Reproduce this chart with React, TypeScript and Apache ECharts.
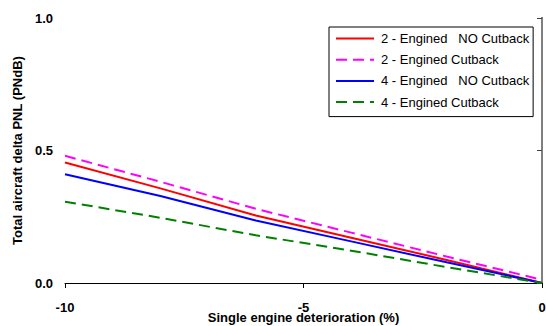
import React, { useEffect, useRef } from "react";
import * as echarts from "echarts";

const xValues = [-10, -8, -6, -4, -2, 0];
const twoNoCutback = [0.455, 0.357, 0.255, 0.171, 0.087, 0.0];
const twoCutback = [0.48, 0.382, 0.28, 0.19, 0.1, 0.012];
const fourNoCutback = [0.41, 0.328, 0.236, 0.157, 0.078, 0.0];
const fourCutback = [0.307, 0.246, 0.18, 0.122, 0.06, 0.0];

const seriesNames = [
  "2 - Engined\u00a0\u00a0\u00a0NO Cutback",
  "2 - Engined Cutback",
  "4 - Engined\u00a0\u00a0\u00a0NO Cutback",
  "4 - Engined Cutback",
];
const seriesColors = ["#ff0000", "#ff00ff", "#0000ff", "#008000"];
const seriesDashed = [false, true, false, true];
const seriesValues = [twoNoCutback, twoCutback, fourNoCutback, fourCutback];

const FONT = "'Liberation Sans', Arial, sans-serif";

export default function App() {
  const ref = useRef<HTMLDivElement>(null);
  useEffect(() => {
    if (!ref.current) return;
    const chart = echarts.init(ref.current, undefined, { renderer: "svg" });
    chart.setOption({
      animation: false,
      backgroundColor: "#ffffff",
      textStyle: { fontFamily: FONT },
      grid: {
        left: 65,
        right: 4,
        top: 18,
        bottom: 43,
        containLabel: false,
        outerBoundsMode: "none",
      },
      legend: {
        orient: "vertical",
        left: 329,
        top: 27,
        padding: [5, 4, 8, 6],
        itemWidth: 38,
        itemHeight: 14,
        itemGap: 8.2,
        backgroundColor: "#ffffff",
        borderColor: "#000000",
        borderWidth: 1,
        borderRadius: 0,
        itemStyle: { opacity: 0 },
        textStyle: {
          fontSize: 13,
          color: "#000000",
          fontFamily: FONT,
          padding: [0, 0, 0, 2],
        },
        data: seriesNames,
      },
      xAxis: {
        type: "value",
        min: -10,
        max: 0,
        interval: 5,
        name: "Single engine deterioration (%)",
        nameLocation: "middle",
        nameGap: 28,
        nameMoveOverlap: false,
        nameTextStyle: { fontSize: 13, fontWeight: "bold", color: "#000", fontFamily: FONT },
        axisLine: { show: true, onZero: false, lineStyle: { color: "#000000", width: 1 } },
        axisTick: { show: true, inside: false, length: 5, lineStyle: { color: "#000000" } },
        axisLabel: {
          margin: 18,
          fontSize: 13,
          fontWeight: "bold",
          color: "#000",
          fontFamily: FONT,
        },
        splitLine: { show: false },
      },
      yAxis: [
        {
          type: "value",
          min: 0,
          max: 1,
          interval: 0.5,
          position: "left",
          name: "Total aircraft delta PNL (PNdB)",
          nameLocation: "middle",
          nameGap: 40,
          nameTextStyle: { fontSize: 13, fontWeight: "bold", color: "#000", fontFamily: FONT },
          axisLine: { show: true, lineStyle: { color: "#404040", width: 2 } },
          axisTick: { show: true, inside: false, length: 5, lineStyle: { color: "#404040" } },
          axisLabel: {
            margin: 12,
            fontSize: 13,
            fontWeight: "bold",
            color: "#000",
            fontFamily: FONT,
            formatter: (v: number) => v.toFixed(1),
          },
          splitLine: { show: false },
        },
        {
          type: "value",
          min: 0,
          max: 1,
          interval: 0.5,
          position: "right",
          axisLine: { show: true, lineStyle: { color: "#808080", width: 2 } },
          axisTick: { show: false },
          axisLabel: { show: false },
          splitLine: { show: false },
        },
      ],
      series: seriesNames.map((name, i) => ({
        name,
        type: "line",
        yAxisIndex: 0,
        showSymbol: false,
        symbol: "none",
        data: xValues.map((x, j) => [x, seriesValues[i][j]]),
        lineStyle: {
          color: seriesColors[i],
          width: 2,
          type: seriesDashed[i] ? [11, 6] : "solid",
        },
        itemStyle: { color: seriesColors[i] },
      })),
    });
    return () => chart.dispose();
  }, []);
  return (
    <div
      ref={ref}
      style={{ position: "fixed", left: 0, top: 0, width: 546, height: 326 }}
    />
  );
}
